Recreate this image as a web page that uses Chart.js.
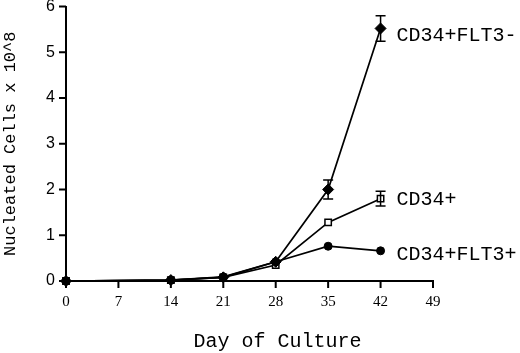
<!DOCTYPE html>
<html>
<head>
<meta charset="utf-8">
<script src="https://cdn.jsdelivr.net/npm/chart.js@4/dist/chart.umd.min.js"></script>
<style>
  html, body { margin: 0; padding: 0; background: #fff; }
  #wrap { width: 520px; height: 353px; position: relative; }
</style>
</head>
<body>
<div id="wrap"><canvas id="growthChart"></canvas></div>
<script>
// days of culture and cell counts (x 10^8)
const days = [0, 14, 21, 28, 35, 42];
const xTicks = [0, 7, 14, 21, 28, 35, 42, 49];
const yTicks = [0, 1, 2, 3, 4, 5, 6];
const flt3Neg = [0, 0.02, 0.08, 0.42, 2.0, 5.52];
const cd34All = [0, 0.02, 0.08, 0.35, 1.28, 1.8];
const flt3Pos = [0, 0.02, 0.09, 0.42, 0.76, 0.66];
// error bar half-widths
const flt3NegErr = [0, 0, 0, 0, 0.21, 0.28];
const cd34AllErr = [0, 0, 0, 0, 0, 0.16];
const flt3PosErr = [0, 0, 0, 0, 0, 0];
const seriesLabels = ['CD34+FLT3-', 'CD34+', 'CD34+FLT3+'];

const toPoints = vals => days.map((d, i) => ({ x: d, y: vals[i] }));

// tick marks, error bars, end labels, x title
const extrasPlugin = {
    id: 'extras',
    afterDatasetsDraw(chart) {
        const ctx = chart.ctx;
        const xs = chart.scales.x;
        const ys = chart.scales.y;
        const area = chart.chartArea;
        ctx.save();
        ctx.strokeStyle = '#000';
        ctx.lineWidth = 2;
        ctx.beginPath();
        xTicks.forEach(v => {
            const px = xs.getPixelForValue(v);
            ctx.moveTo(px, area.bottom);
            ctx.lineTo(px, area.bottom + 7);
        });
        yTicks.forEach(v => {
            const py = ys.getPixelForValue(v);
            ctx.moveTo(area.left, py);
            ctx.lineTo(area.left - 7, py);
        });
        ctx.stroke();

        ctx.lineWidth = 1.5;
        chart.data.datasets.forEach(ds => {
            ds.errors.forEach((e, i) => {
                if (!e) return;
                const px = xs.getPixelForValue(days[i]);
                const hi = ys.getPixelForValue(ds.values[i] + e);
                const lo = ys.getPixelForValue(ds.values[i] - e);
                ctx.beginPath();
                ctx.moveTo(px, hi); ctx.lineTo(px, lo);
                ctx.moveTo(px - 5, hi); ctx.lineTo(px + 5, hi);
                ctx.moveTo(px - 5, lo); ctx.lineTo(px + 5, lo);
                ctx.stroke();
            });
        });
        ctx.fillStyle = '#000';
        ctx.font = '20px "Liberation Mono", "Courier New", monospace';
        ctx.textBaseline = 'middle';
        chart.data.datasets.forEach(ds => {
            const last = days.length - 1;
            const px = xs.getPixelForValue(days[last]);
            const py = ys.getPixelForValue(ds.values[last]);
            ctx.fillText(ds.label, px + 16, py + ds.labelShift);
        });
        ctx.textAlign = 'center';
        ctx.fillText('Day of Culture', (area.left + area.right) / 2 + 28, 342);
        ctx.restore();
    }
};

const ctx = document.getElementById('growthChart').getContext('2d');
new Chart(ctx, {
    type: 'line',
    data: {
        datasets: [
            {
                label: seriesLabels[2],
                data: toPoints(flt3Pos),
                values: flt3Pos,
                errors: flt3PosErr,
                labelShift: 4,
                clip: false,
                borderColor: '#000',
                borderWidth: 1.7,
                pointStyle: 'circle',
                pointRadius: 4,
                pointBackgroundColor: '#000',
                pointBorderColor: '#000',
                pointBorderWidth: 1
            },
            {
                label: seriesLabels[0],
                data: toPoints(flt3Neg),
                values: flt3Neg,
                errors: flt3NegErr,
                labelShift: 7,
                clip: false,
                borderColor: '#000',
                borderWidth: 1.7,
                pointStyle: 'rectRot',
                pointRadius: 5.5,
                pointBackgroundColor: '#000',
                pointBorderColor: '#000',
                pointBorderWidth: 1
            },
            {
                label: seriesLabels[1],
                data: toPoints(cd34All),
                values: cd34All,
                errors: cd34AllErr,
                labelShift: 1,
                clip: false,
                borderColor: '#000',
                borderWidth: 1.7,
                pointStyle: 'rect',
                pointRadius: 4.5,
                pointBackgroundColor: '#fff',
                pointBorderColor: '#000',
                pointBorderWidth: 1.5
            }
        ]
    },
    options: {
        responsive: true,
        maintainAspectRatio: false,
        animation: false,
        layout: { padding: { left: 0, right: 87, top: 0, bottom: 0 } },
        plugins: {
            legend: { display: false },
            tooltip: { enabled: false }
        },
        scales: {
            x: {
                type: 'linear',
                min: 0,
                max: 49,
                afterBuildTicks: s => { s.ticks = xTicks.map(v => ({ value: v })); },
                afterFit: s => { s.height = 72; },
                border: { display: true, color: '#000', width: 2 },
                grid: { display: false, drawTicks: true, tickLength: 7 },
                ticks: {
                    color: '#000',
                    padding: 5,
                    maxRotation: 0,
                    font: { family: '"Liberation Serif", "Times New Roman", serif', size: 15 }
                }
            },
            y: {
                min: 0,
                max: 6,
                afterFit: s => { s.width = 66; s.paddingTop = 5; s.paddingBottom = 0; },
                border: { display: true, color: '#000', width: 2 },
                grid: { display: false, drawTicks: true, tickLength: 7 },
                ticks: {
                    stepSize: 1,
                    color: '#000',
                    padding: 4,
                    font: { family: '"Liberation Sans", Arial, sans-serif', size: 16 }
                },
                title: {
                    display: true,
                    text: 'Nucleated Cells x 10^8',
                    color: '#000',
                    padding: { top: 0, bottom: 0 },
                    font: { family: '"Liberation Mono", "Courier New", monospace', size: 17 }
                }
            }
        }
    },
    plugins: [extrasPlugin]
});
</script>
</body>
</html>
